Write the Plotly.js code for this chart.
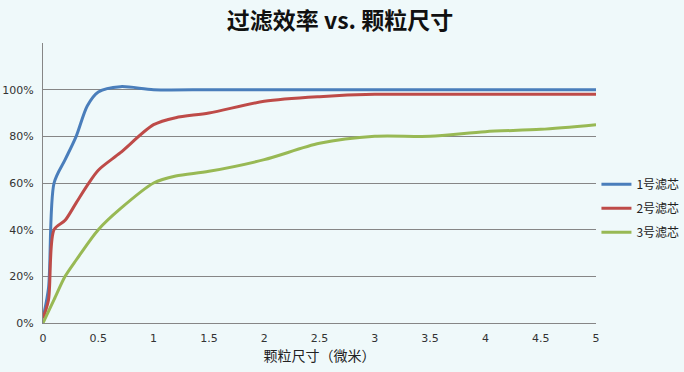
<!DOCTYPE html>
<html>
<head>
<meta charset="utf-8">
<script src="https://cdn.plot.ly/plotly-3.0.1.min.js"></script>
<style>html,body{margin:0;padding:0;background:#eff9fa;}</style>
</head>
<body>
<div id="chart" style="width:684px;height:372px;"></div>
<script>
const titleText = "过滤效率 vs. 颗粒尺寸";
const xTitle = "颗粒尺寸（微米）";
const seriesNames = ["1号滤芯", "2号滤芯", "3号滤芯"];

const x1 = [0, 0.05, 0.1, 0.2, 0.3, 0.4, 0.5, 0.7, 1, 1.5, 2, 2.5, 3, 3.5, 4, 4.5, 5];
const y1 = [2, 15, 60, 70, 80, 93, 99, 101.3, 100, 100, 100, 100, 100, 100, 100, 100, 100];

const x2 = [0, 0.05, 0.1, 0.2, 0.3, 0.4, 0.5, 0.7, 1, 1.2, 1.5, 2, 2.5, 3, 3.5, 4, 4.5, 5];
const y2 = [2, 10, 40, 44, 51.5, 59, 65.5, 73, 85, 88, 90, 95, 97, 98, 98, 98, 98, 98];

const x3 = [0, 0.1, 0.2, 0.3, 0.5, 0.7, 1, 1.2, 1.5, 2, 2.5, 3, 3.5, 4, 4.5, 5];
const y3 = [0, 10, 20, 27, 40, 49, 60, 63, 65, 70, 77, 80, 80, 82, 83, 85];

const xTicks = [0, 0.5, 1, 1.5, 2, 2.5, 3, 3.5, 4, 4.5, 5];
const yTicks = [0, 20, 40, 60, 80, 100, 120];
const yTickText = ["0%", "20%", "40%", "60%", "80%", "100%", ""];

const colors = ["#4a7ebb", "#be4b48", "#98b954"];
const xs = [x1, x2, x3];
const ys = [y1, y2, y3];

const traces = xs.map((xv, i) => ({
  x: xv, y: ys[i], name: seriesNames[i], type: "scatter", mode: "lines",
  legendgroup: "g" + i,
  line: {color: colors[i], width: 3, shape: "spline", smoothing: 0.8}
}));

const layout = {
  width: 684, height: 372,
  paper_bgcolor: "#eff9fa", plot_bgcolor: "#eff9fa",
  margin: {l: 43, r: 88, t: 43, b: 49},
  font: {family: "'Noto Sans CJK SC', 'DejaVu Sans', sans-serif", color: "#333333", size: 11},
  title: {text: "<b>" + titleText + "</b>", x: 0.497, xanchor: "center", y: 0.945, yanchor: "middle",
          font: {size: 23, color: "#111111", family: "'Noto Sans CJK SC', sans-serif"}},
  xaxis: {
    range: [0, 5], tickvals: xTicks, ticktext: xTicks.map(String),
    showgrid: false, zeroline: false, showline: true, linecolor: "#868686", linewidth: 1,
    ticks: "", ticklabelstandoff: 5,
    tickfont: {size: 11, color: "#333333", family: "'DejaVu Sans', sans-serif"},
    title: {text: xTitle, font: {size: 14, color: "#222222"}, standoff: 6}
  },
  yaxis: {
    range: [0, 120], tickvals: yTicks, ticktext: yTickText,
    showgrid: true, gridcolor: "#868686", gridwidth: 1, zeroline: false,
    showline: true, linecolor: "#868686", linewidth: 1, ticks: "", ticklabelstandoff: 6,
    tickfont: {size: 11, color: "#333333", family: "'DejaVu Sans', sans-serif"}
  },
  legend: {xref: "container", yref: "container", x: 0.872, xanchor: "left", y: 0.44, yanchor: "middle",
           font: {size: 12, color: "#222222"}, bgcolor: "rgba(0,0,0,0)", itemwidth: 30, tracegroupgap: 5},
  showlegend: true
};

Plotly.newPlot("chart", traces, layout, {displayModeBar: false, staticPlot: true});
</script>
</body>
</html>
